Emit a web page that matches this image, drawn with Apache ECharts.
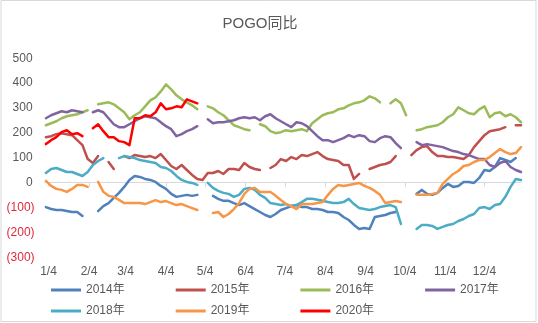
<!DOCTYPE html>
<html>
<head>
<meta charset="utf-8">
<script src="https://cdn.jsdelivr.net/npm/echarts@6/dist/echarts.min.js"></script>
<style>
  html, body { margin: 0; padding: 0; background: #fff; }
  #chart { width: 538px; height: 323px; }
</style>
</head>
<body>
<div id="chart"></div>
<script>
// Day-of-year positions (0 = Jan 1) at which each year's reading is sampled
const days = [1, 5, 9, 13, 17, 21, 25, 29, 33, 37, 41, 45, 49, 53, 57, 61, 65, 69, 73, 77,
  81, 85, 89, 93, 97, 101, 105, 109, 113, 117, 121, 125, 129, 133, 137, 141, 145, 149, 153, 157,
  161, 165, 169, 173, 177, 181, 185, 189, 193, 197, 201, 205, 209, 213, 217, 221, 225, 229, 233, 237,
  241, 245, 249, 253, 257, 261, 265, 269, 273, 277, 281, 285, 289, 293, 297, 301, 305, 309, 313, 317,
  321, 325, 329, 333, 337, 341, 345, 349, 353, 357, 361, 365];

// Month labels sit on the 4th of each month
const tickDays = [3, 34, 62, 93, 123, 154, 184, 215, 246, 276, 307, 337];
const tickLabels = ['1/4', '2/4', '3/4', '4/4', '5/4', '6/4', '7/4', '8/4', '9/4', '10/4', '11/4', '12/4'];

const seriesNames = ['2014年', '2015年', '2016年', '2017年', '2018年', '2019年', '2020年'];
const seriesColors = ['#4F81BD', '#C0504D', '#9BBB59', '#8064A2', '#4BACC6', '#F79646', '#FF0000'];

// Year-on-year readings, null where no trading data
const y2014 = [-98, -106, -110, -110, -114, -118, -118, -134, null, null, -114, -94, -82, -61, -41, -17, 11, 27, 23, 15,
  11, 3, -13, -25, -45, -57, -53, -49, -53, -49, null, null, -53, -65, -73, -73, -82, -90, -82, -94,
  -106, -118, -130, -138, -126, -110, -102, -94, -90, -98, -98, -106, -106, -110, -118, -118, -122, -138, -150, -170,
  -186, -182, -186, -138, -134, -130, -122, -118, null, null, null, -45, -29, -45, -49, -41, -21, -5, -17, -13,
  3, 3, -1, 19, 51, 47, 63, 99, 91, 83, 99, null];

const y2015 = [183, 187, 195, 199, 195, 191, 171, 151, 95, 79, 107, null, 83, 55, null, 107, 99, 111, 107, 103,
  107, 99, 115, 91, 67, 55, 71, 51, 31, 15, 11, 39, 39, 47, 35, 55, 55, 51, 79, 63,
  55, 51, null, 59, 71, 95, 87, 103, 95, 111, 107, 115, 123, 107, 95, 91, 87, 71, 71, 15,
  35, null, 55, 63, 71, 75, 83, 107, null, null, 111, 131, 143, 147, 123, 107, 107, 103, 103, 99,
  95, 111, 143, 167, 191, 207, 211, 215, 223, null, 231, 231];

const y2016 = [231, 239, 247, 259, 267, 271, 275, 283, 291, null, 315, 319, 323, 315, 299, 283, 255, 271, 283, 307,
  331, 343, 367, 395, 375, 351, 335, 323, 311, 295, null, 307, 299, 283, 271, 251, 231, 223, 215, 211,
  null, 235, 227, 207, 199, 203, 211, 207, 211, 215, 207, 239, 255, 271, 279, 283, 295, 299, 311, 319,
  323, 331, 347, 339, 323, null, 319, 335, 319, 271, null, 211, 215, 223, 227, 231, 243, 263, 275, 303,
  291, 279, 275, 295, 307, 263, 279, 283, 267, 275, 263, 243];

const y2017 = [259, 271, 279, 287, 283, 291, 287, 283, null, 283, 291, 283, 259, 235, 223, 223, 235, 247, 259, 267,
  263, 259, 243, 227, 215, 187, 195, 207, 215, 227, null, 255, 239, 243, 243, 247, 251, 259, 263, 259,
  263, 251, 267, 275, 259, 247, 235, 223, 243, 239, 227, 207, 187, 171, 171, 163, 171, 179, 191, 183,
  191, 187, 167, 163, 179, 187, 183, 159, 139, null, null, 163, 151, 155, 151, 147, 143, 135, 127, 123,
  115, 111, 103, 95, 95, 71, 63, 79, 87, 63, 51, 43];

const y2018 = [39, 55, 59, 51, 43, 43, 35, 27, 43, 71, 87, 99, null, null, 99, 107, 103, 99, 91, 87,
  83, 79, 63, 59, 47, 27, 11, 3, -1, -9, null, -1, -21, -33, -41, -45, -57, -49, -25, -21,
  -29, -49, -61, -82, -86, -90, -86, -94, -90, -78, -65, -65, -69, -73, -78, -82, -82, -78, -65, -86,
  -102, -106, -110, -106, -98, -94, -90, -98, -166, null, null, -186, -170, -170, -174, -186, -178, -170, -166, -154,
  -146, -134, -126, -102, -98, -106, -90, -86, -57, -17, 15, 11];

const y2019 = [7, -13, -25, -29, -37, -25, -9, -9, -17, null, 3, -37, -53, -57, -69, -82, -82, -82, -82, -86,
  -78, -70, -78, -74, -82, -90, -86, -94, -102, -110, null, null, -122, -118, -138, -126, -106, -82, -45, -25,
  -21, -37, -37, -37, -53, -70, -86, -94, -106, -86, -86, -86, -82, -78, -50, -25, -9, -13, -9, -5,
  -1, -13, -21, -33, -49, -82, -78, -74, -78, null, null, -49, -49, -49, -45, -41, -5, 15, 35, 47,
  67, 71, 83, 91, 91, 103, 119, 135, 123, 115, 119, 143];

const y2020 = [155, 171, 183, 203, 211, 195, 199, 187, null, 219, 235, 207, 183, 183, 167, 163, 151, 259, 259, 271,
  267, 283, 319, 295, 299, 307, 303, 335, 327, 319];

const yTicks = { min: -300, max: 500, step: 100 };

const seriesValues = [y2014, y2015, y2016, y2017, y2018, y2019, y2020];
const FONT = "'Liberation Sans', 'Noto Sans CJK SC', sans-serif";
const GREY = '#595959';

const chart = echarts.init(document.getElementById('chart'), null, { renderer: 'canvas' });

chart.setOption({
  animation: false,
  backgroundColor: '#fff',
  textStyle: { fontFamily: FONT },
  graphic: [
    {
      type: 'rect',
      shape: { x: 1, y: 0.5, width: 535, height: 321 },
      style: { fill: 'none', stroke: '#d9d9d9', lineWidth: 1 },
      silent: true
    },
    {
      type: 'text',
      x: 260, y: 24,
      style: {
        text: 'POGO同比', fill: GREY, font: '15px ' + FONT,
        textAlign: 'center', textVerticalAlign: 'middle'
      },
      silent: true
    }
  ],
  grid: { left: 44.6, right: 17, top: 58.3, bottom: 65.7, containLabel: false },
  xAxis: [
    {
      type: 'value', min: 0, max: 365, position: 'bottom',
      axisLine: { show: false }, axisTick: { show: false }, splitLine: { show: false },
      axisLabel: {
        customValues: tickDays,
        formatter: v => tickLabels[tickDays.indexOf(v)] || '',
        color: GREY, fontSize: 12, fontFamily: FONT, margin: 8
      }
    },
    {
      type: 'value', min: 0, max: 365, position: 'bottom',
      axisLine: { show: true, onZero: true, onZeroAxisIndex: 0, lineStyle: { color: '#d9d9d9', width: 1 } },
      axisTick: { show: true, customValues: tickDays, length: 4, lineStyle: { color: '#d9d9d9' } },
      axisLabel: { show: false }, splitLine: { show: false }
    }
  ],
  yAxis: {
    type: 'value', min: yTicks.min, max: yTicks.max, interval: yTicks.step,
    axisLine: { show: false }, axisTick: { show: false }, splitLine: { show: false },
    axisLabel: {
      margin: 10, fontSize: 12, fontFamily: FONT,
      formatter: v => v < 0 ? '{neg|(' + Math.abs(v) + ')}' : '{pos|' + v + '}',
      rich: {
        neg: { color: '#E0283C', fontSize: 12, fontFamily: FONT },
        pos: { color: GREY, fontSize: 12, fontFamily: FONT, padding: [0, 2, 0, 0] }
      }
    }
  },
  legend: [
    {
      data: seriesNames.slice(0, 4), left: 46, top: 279,
      icon: 'rect', itemWidth: 30, itemHeight: 3, itemGap: 51,
      textStyle: { color: GREY, fontSize: 12, fontFamily: FONT }
    },
    {
      data: seriesNames.slice(4), left: 46, top: 300,
      icon: 'rect', itemWidth: 30, itemHeight: 3, itemGap: 51,
      textStyle: { color: GREY, fontSize: 12, fontFamily: FONT }
    }
  ],
  series: seriesNames.map((name, k) => ({
    name,
    type: 'line',
    xAxisIndex: 0,
    showSymbol: false,
    symbol: 'none',
    connectNulls: false,
    color: seriesColors[k],
    lineStyle: { width: 2.5, color: seriesColors[k], join: 'round', cap: 'round' },
    data: seriesValues[k].map((v, i) => [days[i], v])
  }))
});
</script>
</body>
</html>
